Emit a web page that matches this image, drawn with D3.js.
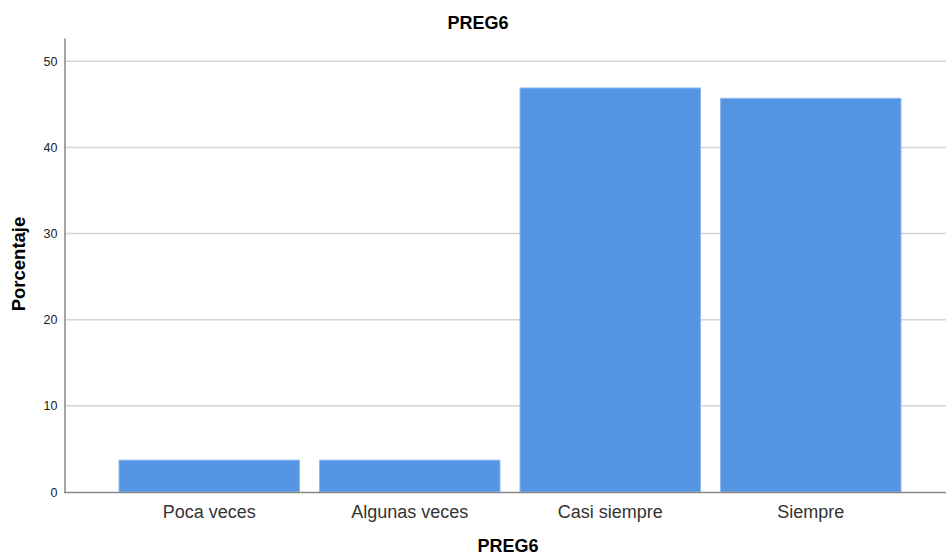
<!DOCTYPE html>
<html><head><meta charset="utf-8">
<script src="https://cdn.jsdelivr.net/npm/d3@7"></script>
<style>body{margin:0;background:#fff}svg{display:block}</style>
</head><body>
<script>
const categories = ["Poca veces", "Algunas veces", "Casi siempre", "Siempre"];
const values = [3.7, 3.7, 46.9, 45.7];
const yTicks = [0, 10, 20, 30, 40, 50];
const title = "PREG6";
const xTitle = "PREG6";
const yTitle = "Porcentaje";

const W = 946, H = 556;
const svg = d3.select("body").append("svg").attr("width", W).attr("height", H);
const x = d3.scaleBand().domain(categories).range([109, 911]).paddingInner(0.1).paddingOuter(0.05);
const y = d3.scaleLinear().domain([0, 52.7]).range([492, 38]);
const font = "Liberation Sans, Arial, sans-serif";

// gridlines
svg.append("g").selectAll("line").data(yTicks.filter(d => d > 0)).join("line")
  .attr("x1", 65).attr("x2", W).attr("y1", d => y(d)).attr("y2", d => y(d))
  .attr("stroke", "#d4d4d4").attr("stroke-width", 1.5);

// bars
svg.append("g").selectAll("rect").data(categories).join("rect")
  .attr("x", d => x(d)).attr("width", x.bandwidth())
  .attr("y", (d, i) => y(values[i])).attr("height", (d, i) => y(0) - y(values[i]))
  .attr("fill", "#5596e4").attr("stroke", "#8fb9ee").attr("stroke-width", 1);

// y axis
const yAxis = svg.append("g").attr("transform", "translate(64.5,0)")
  .call(d3.axisLeft(y).tickValues(yTicks).tickSize(0).tickPadding(7));
yAxis.select(".domain").attr("stroke", "#888").attr("stroke-width", 1.5);
yAxis.selectAll("text").attr("font-family", font).attr("font-size", 12.5).attr("fill", "#222");

// x axis
const xAxis = svg.append("g").attr("transform", "translate(0,492)")
  .call(d3.axisBottom(x).tickSize(0).tickPadding(13));
xAxis.select(".domain").remove();
svg.append("line").attr("x1", 64).attr("x2", W).attr("y1", 492.5).attr("y2", 492.5)
  .attr("stroke", "#888").attr("stroke-width", 1.5);
xAxis.selectAll("text").attr("font-family", font).attr("font-size", 18).attr("fill", "#333");

// titles
svg.append("text").attr("x", 478).attr("y", 29).attr("text-anchor", "middle")
  .attr("font-family", font).attr("font-size", 18).attr("font-weight", "bold").text(title);
svg.append("text").attr("x", 508).attr("y", 552).attr("text-anchor", "middle")
  .attr("font-family", font).attr("font-size", 18).attr("font-weight", "bold").text(xTitle);
svg.append("text").attr("transform", "translate(25,264) rotate(-90)").attr("text-anchor", "middle")
  .attr("font-family", font).attr("font-size", 18.5).attr("font-weight", "bold").text(yTitle);
</script>
</body></html>
